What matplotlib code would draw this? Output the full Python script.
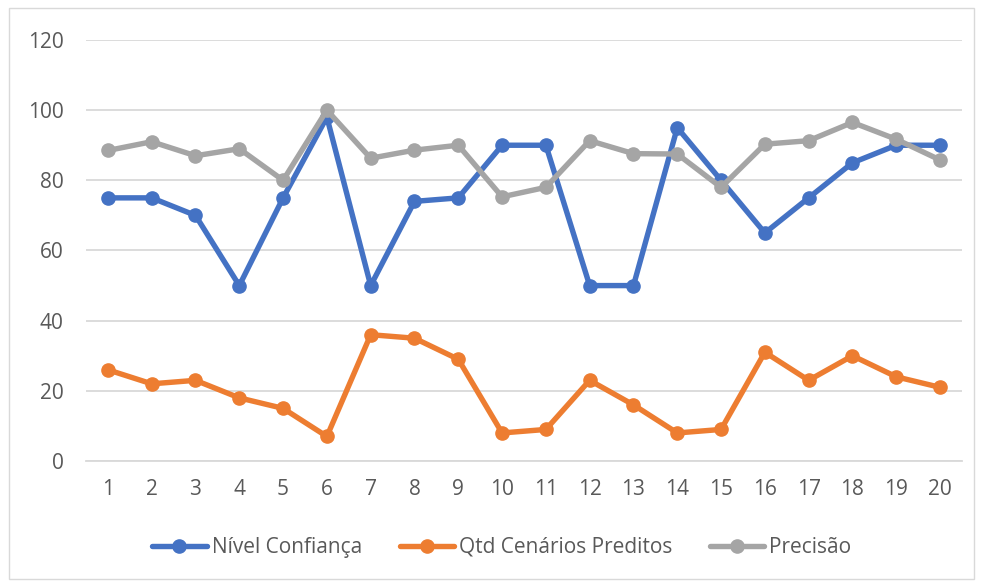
import matplotlib.pyplot as plt
from matplotlib.patches import Rectangle

FONT_SIZE = 15
LEGEND_SIZE = 15

categorias = [str(i) for i in range(1, 21)]
nivel_confianca = [75, 75, 70, 50, 75, 98, 50, 74, 75, 90, 90, 50, 50, 95, 80, 65, 75, 85, 90, 90]
qtd_cenarios = [26, 22, 23, 18, 15, 7, 36, 35, 29, 8, 9, 23, 16, 8, 9, 31, 23, 30, 24, 21]
precisao = [88.5, 91, 87, 89, 80, 100, 86.3, 88.6, 90, 75.3, 78, 91.3, 87.6, 87.5, 78,
            90.3, 91.3, 96.5, 91.7, 85.8]

plt.rcParams['font.family'] = ['Open Sans', 'DejaVu Sans']

fig = plt.figure(figsize=(9.84, 5.81), dpi=100)
ax = fig.add_axes([0.0874, 0.2065, 0.8902, 0.7247])

x = list(range(1, 21))
series = [
    (nivel_confianca, '#4472C4', 'Nível Confiança'),
    (qtd_cenarios, '#ED7D31', 'Qtd Cenários Preditos'),
    (precisao, '#A5A5A5', 'Precisão'),
]
for vals, cor, nome in series:
    ax.plot(x, vals, color=cor, lw=3.9, marker='o', markersize=9.5,
            label=nome, solid_capstyle='round')

ax.set_xlim(0.5, 20.5)
ax.set_ylim(0, 120)
ax.set_yticks(range(0, 121, 20))
ax.set_xticks(x)
ax.set_xticklabels(categorias)
ax.grid(axis='y', color='#d9d9d9', lw=1.3)
ax.set_axisbelow(True)
for s in ['top', 'right', 'left']:
    ax.spines[s].set_visible(False)
ax.spines['bottom'].set_color('#d9d9d9')
ax.spines['bottom'].set_linewidth(1.3)
ax.tick_params(length=0, labelsize=FONT_SIZE, colors='#595959')
ax.tick_params(axis='x', pad=13)
ax.tick_params(axis='y', pad=16)

leg = fig.legend(loc='center', bbox_to_anchor=(0.51, 0.058), ncol=3, frameon=False,
                 fontsize=LEGEND_SIZE, handlelength=2.6, columnspacing=1.8,
                 handletextpad=0.25)
for t in leg.get_texts():
    t.set_color('#595959')

fig.patches.append(Rectangle((0.009, 0.004), 0.981, 0.982, transform=fig.transFigure,
                             fill=False, edgecolor='#d9d9d9', lw=1))

plt.savefig('out.png', dpi=100)
